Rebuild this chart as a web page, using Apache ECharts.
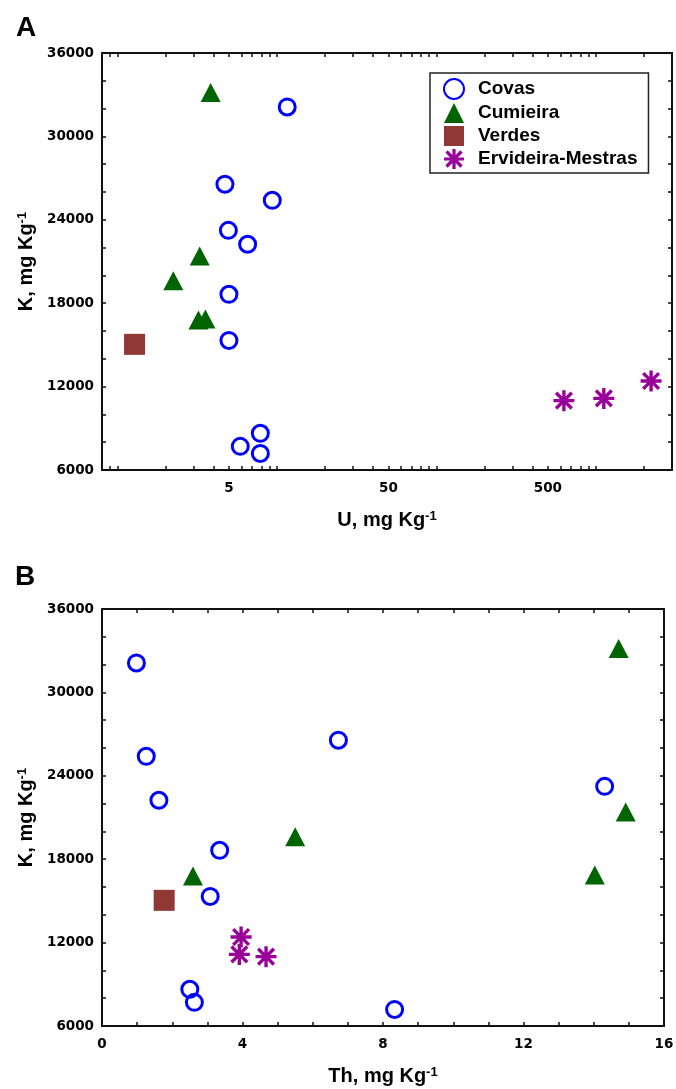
<!DOCTYPE html>
<html>
<head>
<meta charset="utf-8">
<script src="https://cdn.jsdelivr.net/npm/echarts@6/dist/echarts.min.js"></script>
<style>
  body { margin: 0; background: #fff; }
  #main { width: 676px; height: 1089px; }
</style>
</head>
<body>
<div id="main"></div>
<script>
// K vs U (panel A, log scale) and K vs Th (panel B)
var groupNames = ['Covas', 'Cumieira', 'Verdes', 'Ervideira-Mestras'];

var covasK = [32120, 26560, 25400, 23240, 22240, 18640, 15320, 8640, 7700, 7190];
var covasU = [11.6, 4.72, 9.35, 4.96, 6.55, 5.0, 5.0, 7.87, 5.89, 7.87];
var covasTh = [0.98, 6.73, 1.26, 14.31, 1.62, 3.35, 3.08, 2.50, 2.63, 8.33];

var cumieiraK = [33150, 21400, 19620, 16800, 16870];
var cumieiraU = [3.84, 3.28, 2.24, 3.22, 3.56];
var cumieiraTh = [14.71, 14.91, 5.50, 2.59, 14.03];

var verdesK = [15040];
var verdesU = [1.28];
var verdesTh = [1.77];

var ervideiraK = [12400, 11150, 10990];
var ervideiraU = [2218, 1121, 630];
var ervideiraTh = [3.96, 3.91, 4.67];

var uLabels = [5, 50, 500];
var uTicks = [0.9, 1, 2, 3, 4, 5, 6, 7, 8, 9, 10, 20, 30, 40, 50, 60, 70, 80, 90, 100,
    200, 300, 400, 500, 600, 700, 800, 900, 1000, 2000, 3000];

function pairs(xs, ys) {
    return xs.map(function (x, i) { return [x, ys[i]]; });
}

var font = 'Liberation Sans';
var starPath = 'path://M8.4,0 L11.6,0 L11.6,20 L8.4,20 Z M0,8.4 L20,8.4 L20,11.6 L0,11.6 Z ' +
    'M3.63,1.37 L18.63,16.37 L16.37,18.63 L1.37,3.63 Z M16.37,1.37 L18.63,3.63 L3.63,18.63 L1.37,16.37 Z';

var markers = {
    'Covas': { symbol: 'circle', symbolSize: 16, itemStyle: { color: 'rgba(255,255,255,0)', borderColor: '#0000ff', borderWidth: 3, opacity: 1 } },
    'Cumieira': { symbol: 'triangle', symbolSize: [20, 19], itemStyle: { color: '#006400', opacity: 1 } },
    'Verdes': { symbol: 'rect', symbolSize: 21, itemStyle: { color: '#8f3836', opacity: 1 } },
    'Ervideira-Mestras': { symbol: starPath, symbolSize: 21, itemStyle: { color: '#990099', opacity: 1 } }
};

var lineStyle = { color: '#111', width: 2 };
var tickStyle = { color: '#111', width: 1.5 };
var labelStyle = { fontFamily: 'DejaVu Sans', fontWeight: 'bold', fontSize: 13.5, color: '#000' };
var nameStyle = {
    fontFamily: font, fontWeight: 'bold', fontSize: 20, color: '#000',
    rich: { sup: { fontFamily: font, fontWeight: 'bold', fontSize: 13, verticalAlign: 'top', color: '#000' } }
};

function plain(v) {
    return String(v);
}

function kAxis(grid, pos) {
    var main = pos === 'left';
    return {
        type: 'value', gridIndex: grid, position: pos,
        min: 6000, max: 36000, interval: 6000,
        name: main ? 'K, mg Kg{sup|-1}' : '',
        nameLocation: 'middle', nameGap: 58, nameTextStyle: nameStyle,
        axisLine: { show: true, onZero: false, lineStyle: lineStyle },
        axisTick: { show: true, inside: true, length: 4, lineStyle: tickStyle },
        minorTick: { show: true, splitNumber: 3, length: 4, lineStyle: tickStyle },
        axisLabel: Object.assign({ show: main, margin: 8, formatter: plain }, labelStyle),
        splitLine: { show: false }
    };
}

function uAxis(pos) {
    var main = pos === 'bottom';
    return {
        type: 'log', logBase: 10, gridIndex: 0, position: pos,
        min: 0.8, max: 3000,
        name: main ? 'U, mg Kg{sup|-1}' : '',
        nameLocation: 'middle', nameGap: 40, nameTextStyle: nameStyle,
        axisLine: { show: true, onZero: false, lineStyle: lineStyle },
        axisTick: { show: true, inside: true, length: 4, lineStyle: tickStyle, customValues: uTicks },
        axisLabel: Object.assign({ show: main, margin: 11, customValues: uLabels, formatter: plain }, labelStyle),
        splitLine: { show: false }
    };
}

function thAxis(pos) {
    var main = pos === 'bottom';
    return {
        type: 'value', gridIndex: 1, position: pos,
        min: 0, max: 16, interval: 4,
        name: main ? 'Th, mg Kg{sup|-1}' : '',
        nameLocation: 'middle', nameGap: 40, nameTextStyle: nameStyle,
        axisLine: { show: true, onZero: false, lineStyle: lineStyle },
        axisTick: { show: true, inside: true, length: 4, lineStyle: tickStyle },
        minorTick: { show: true, splitNumber: 4, length: 4, lineStyle: tickStyle },
        axisLabel: Object.assign({ show: main, margin: 11, formatter: plain }, labelStyle),
        splitLine: { show: false }
    };
}

var uData = { 'Covas': pairs(covasU, covasK), 'Cumieira': pairs(cumieiraU, cumieiraK),
    'Verdes': pairs(verdesU, verdesK), 'Ervideira-Mestras': pairs(ervideiraU, ervideiraK) };
var thData = { 'Covas': pairs(covasTh, covasK), 'Cumieira': pairs(cumieiraTh, cumieiraK),
    'Verdes': pairs(verdesTh, verdesK), 'Ervideira-Mestras': pairs(ervideiraTh, ervideiraK) };

var series = [];
groupNames.forEach(function (name) {
    var m = markers[name];
    series.push({
        name: name, type: 'scatter', xAxisIndex: 0, yAxisIndex: 0,
        symbol: m.symbol, symbolSize: m.symbolSize, itemStyle: m.itemStyle,
        emphasis: { disabled: true }, data: uData[name]
    });
    series.push({
        name: name, type: 'scatter', xAxisIndex: 2, yAxisIndex: 2,
        symbol: m.symbol, symbolSize: m.symbolSize, itemStyle: m.itemStyle,
        emphasis: { disabled: true }, data: thData[name]
    });
});

var myChart = echarts.init(document.getElementById('main'));

var option = {
    backgroundColor: '#fff',
    animation: false,
    grid: [
        { left: 102, top: 53, width: 570, height: 417, outerBoundsMode: 'none' },
        { left: 102, top: 609, width: 562, height: 417, outerBoundsMode: 'none' }
    ],
    legend: {
        data: groupNames,
        orient: 'vertical',
        left: 430, top: 73,
        padding: [5, 11, 4, 13],
        itemWidth: 20, itemHeight: 20, itemGap: 3,
        borderColor: '#222', borderWidth: 1.5,
        textStyle: { fontFamily: font, fontWeight: 'bold', fontSize: 19, color: '#000', padding: [0, 0, 0, 9] }
    },
    graphic: [
        { type: 'text', left: 16, top: 14, style: { text: 'A', font: 'bold 28px "Liberation Sans"', fill: '#000' } },
        { type: 'text', left: 15, top: 563, style: { text: 'B', font: 'bold 28px "Liberation Sans"', fill: '#000' } }
    ],
    xAxis: [uAxis('bottom'), uAxis('top'), thAxis('bottom'), thAxis('top')],
    yAxis: [kAxis(0, 'left'), kAxis(0, 'right'), kAxis(1, 'left'), kAxis(1, 'right')],
    series: series
};

myChart.setOption(option);
window.onresize = myChart.resize;
</script>
</body>
</html>
